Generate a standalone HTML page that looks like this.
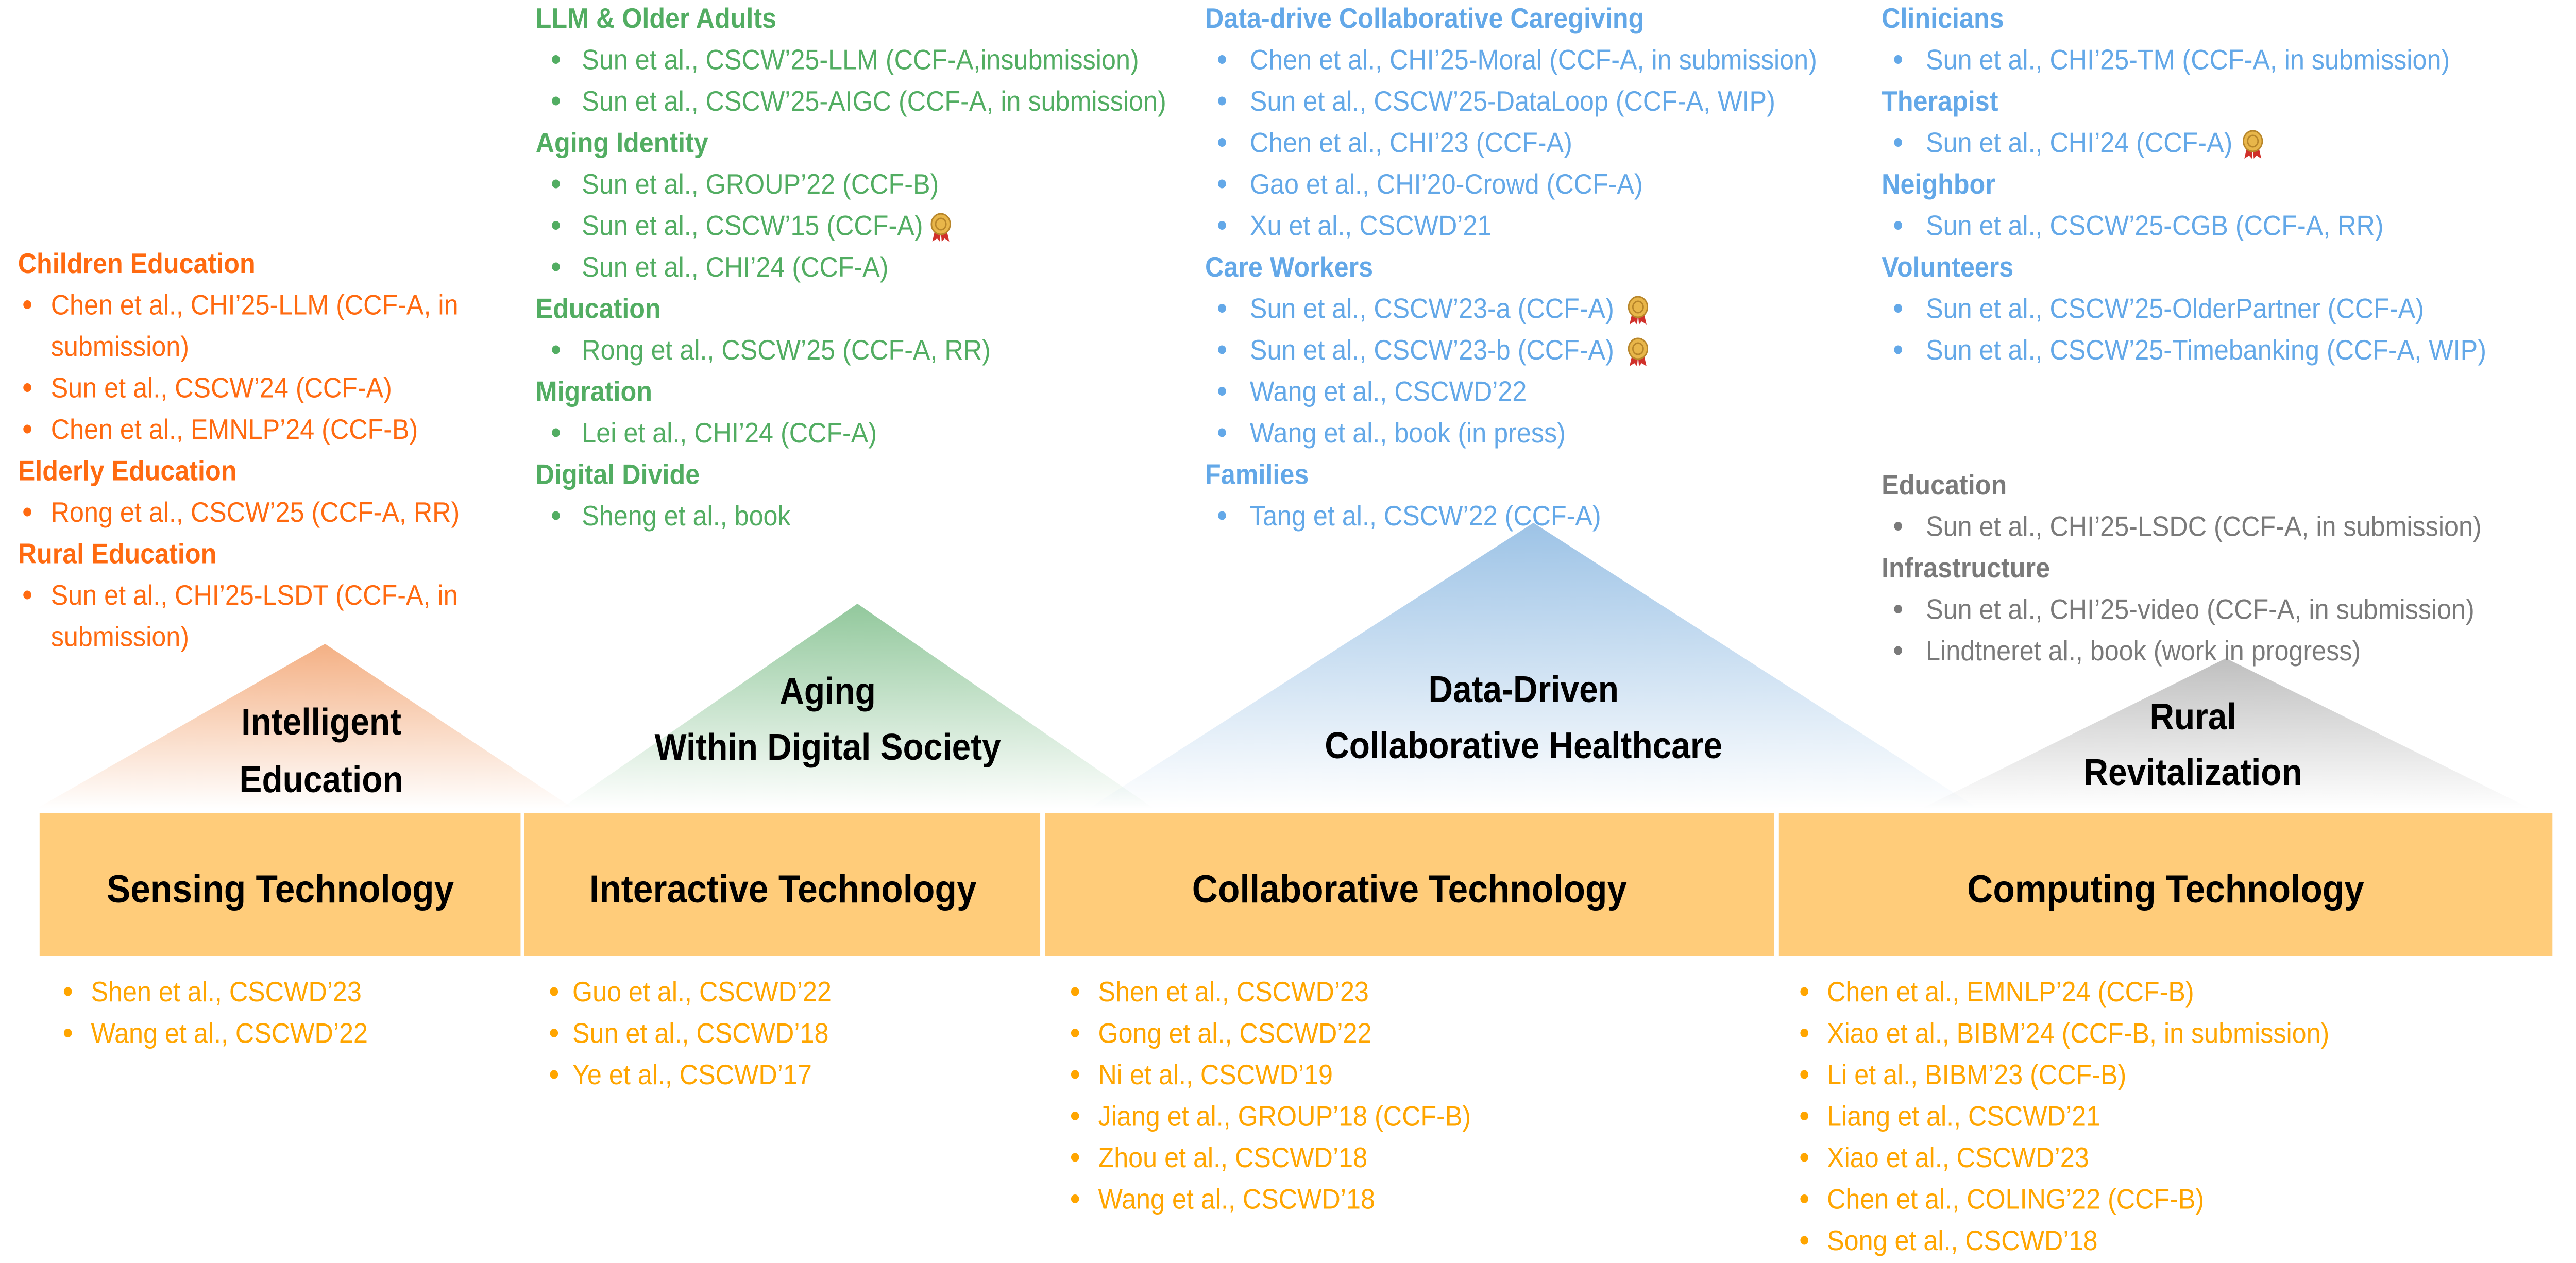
<!DOCTYPE html>
<html><head><meta charset="utf-8"><style>
html,body{margin:0;padding:0;background:#fff;width:100%;height:100%;overflow:hidden;}
svg{display:block;position:absolute;left:0;top:0;width:100vw;height:100vh;}
text{font-family:"Liberation Sans",sans-serif;font-size:55px;}
.h{font-weight:bold;}
.t{font-weight:bold;font-size:72px;fill:#000;text-anchor:middle;}
.bx{font-weight:bold;font-size:76px;fill:#000;text-anchor:middle;}
</style></head><body>
<svg viewBox="0 0 5468 2452" preserveAspectRatio="none" xmlns="http://www.w3.org/2000/svg">
<defs>
<linearGradient id="go" x1="0" y1="0" x2="0" y2="1"><stop offset="0" stop-color="#F4B084"/><stop offset="1" stop-color="#F4B084" stop-opacity="0"/></linearGradient>
<linearGradient id="gg" x1="0" y1="0" x2="0" y2="1"><stop offset="0" stop-color="#92C89C"/><stop offset="1" stop-color="#92C89C" stop-opacity="0"/></linearGradient>
<linearGradient id="gb" x1="0" y1="0" x2="0" y2="1"><stop offset="0" stop-color="#9DC3E6"/><stop offset="1" stop-color="#9DC3E6" stop-opacity="0"/></linearGradient>
<linearGradient id="gy" x1="0" y1="0" x2="0" y2="1"><stop offset="0" stop-color="#BFBFBF"/><stop offset="1" stop-color="#BFBFBF" stop-opacity="0"/></linearGradient>
<g id="medal"><path d="M-12 8 L-18 32 L-8 26 L-2 32 L0 12Z M12 8 L18 32 L8 26 L2 32 L0 12Z" fill="#D0302A"/><circle cx="0" cy="-2" r="20" fill="#E8B64A" stroke="#B8862A" stroke-width="3"/><circle cx="0" cy="-2" r="11" fill="none" stroke="#B8862A" stroke-width="3"/></g>
</defs>
<rect width="5468" height="2452" fill="#fff"/>
<polygon points="690,1250 77,1570 1218,1570" fill="url(#go)"/>
<polygon points="1820,1172 1190,1570 2450,1570" fill="url(#gg)"/>
<polygon points="3255,1015 2310,1570 4200,1570" fill="url(#gb)"/>
<polygon points="4725,1278 4078,1570 5372,1570" fill="url(#gy)"/>

<text class="t" x="682" y="1426">Intelligent</text>
<text class="t" x="682" y="1538">Education</text>
<text class="t" x="1757" y="1366">Aging</text>
<text class="t" x="1757" y="1475">Within Digital Society</text>
<text class="t" x="3234" y="1363">Data-Driven</text>
<text class="t" x="3234" y="1472">Collaborative Healthcare</text>
<text class="t" x="4655" y="1416">Rural</text>
<text class="t" x="4655" y="1524">Revitalization</text>

<rect x="84" y="1578" width="1021" height="278" fill="#FFCC7A"/>
<rect x="1113" y="1578" width="1095" height="278" fill="#FFCC7A"/>
<rect x="2218" y="1578" width="1548" height="278" fill="#FFCC7A"/>
<rect x="3776" y="1578" width="1642" height="278" fill="#FFCC7A"/>
<text class="bx" x="595" y="1752">Sensing Technology</text>
<text class="bx" x="1662" y="1752">Interactive Technology</text>
<text class="bx" x="2992" y="1752">Collaborative Technology</text>
<text class="bx" x="4597" y="1752">Computing Technology</text>

<!-- Orange column -->
<g fill="#FF6A10">
<text class="h" x="38" y="530">Children Education</text>
<circle cx="58" cy="591.5" r="8.5"/><text x="108" y="610.5">Chen et al., CHI’25-LLM (CCF-A, in</text>
<text x="108" y="691">submission)</text>
<circle cx="58" cy="752.5" r="8.5"/><text x="108" y="771.5">Sun et al., CSCW’24 (CCF-A)</text>
<circle cx="58" cy="833" r="8.5"/><text x="108" y="852">Chen et al., EMNLP’24 (CCF-B)</text>
<text class="h" x="38" y="932.5">Elderly Education</text>
<circle cx="58" cy="994" r="8.5"/><text x="108" y="1013">Rong et al., CSCW’25 (CCF-A, RR)</text>
<text class="h" x="38" y="1093.5">Rural Education</text>
<circle cx="58" cy="1155" r="8.5"/><text x="108" y="1174">Sun et al., CHI’25-LSDT (CCF-A, in</text>
<text x="108" y="1254.5">submission)</text>
</g>

<!-- Green column -->
<g fill="#52AD62">
<text class="h" x="1137" y="54">LLM &amp; Older Adults</text>
<circle cx="1180" cy="115.5" r="8.5"/><text x="1235" y="134.5">Sun et al., CSCW’25-LLM (CCF-A,insubmission)</text>
<circle cx="1180" cy="196" r="8.5"/><text x="1235" y="215">Sun et al., CSCW’25-AIGC (CCF-A, in submission)</text>
<text class="h" x="1137" y="295.5">Aging Identity</text>
<circle cx="1180" cy="357" r="8.5"/><text x="1235" y="376">Sun et al., GROUP’22 (CCF-B)</text>
<circle cx="1180" cy="437.5" r="8.5"/><text x="1235" y="456.5">Sun et al., CSCW’15 (CCF-A)</text>
<circle cx="1180" cy="518" r="8.5"/><text x="1235" y="537">Sun et al., CHI’24 (CCF-A)</text>
<text class="h" x="1137" y="617.5">Education</text>
<circle cx="1180" cy="679" r="8.5"/><text x="1235" y="698">Rong et al., CSCW’25 (CCF-A, RR)</text>
<text class="h" x="1137" y="778.5">Migration</text>
<circle cx="1180" cy="840" r="8.5"/><text x="1235" y="859">Lei et al., CHI’24 (CCF-A)</text>
<text class="h" x="1137" y="939.5">Digital Divide</text>
<circle cx="1180" cy="1001" r="8.5"/><text x="1235" y="1020">Sheng et al., book</text>
</g>
<use href="#medal" x="1997" y="437"/>

<!-- Blue column 1 -->
<g fill="#63A8E8">
<text class="h" x="2558" y="54">Data-drive Collaborative Caregiving</text>
<circle cx="2594" cy="115.5" r="8.5"/><text x="2653" y="134.5">Chen et al., CHI’25-Moral (CCF-A, in submission)</text>
<circle cx="2594" cy="196" r="8.5"/><text x="2653" y="215">Sun et al., CSCW’25-DataLoop (CCF-A, WIP)</text>
<circle cx="2594" cy="276.5" r="8.5"/><text x="2653" y="295.5">Chen et al., CHI’23 (CCF-A)</text>
<circle cx="2594" cy="357" r="8.5"/><text x="2653" y="376">Gao et al., CHI’20-Crowd (CCF-A)</text>
<circle cx="2594" cy="437.5" r="8.5"/><text x="2653" y="456.5">Xu et al., CSCWD’21</text>
<text class="h" x="2558" y="537">Care Workers</text>
<circle cx="2594" cy="598.5" r="8.5"/><text x="2653" y="617.5">Sun et al., CSCW’23-a (CCF-A)</text>
<circle cx="2594" cy="679" r="8.5"/><text x="2653" y="698">Sun et al., CSCW’23-b (CCF-A)</text>
<circle cx="2594" cy="759.5" r="8.5"/><text x="2653" y="778.5">Wang et al., CSCWD’22</text>
<circle cx="2594" cy="840" r="8.5"/><text x="2653" y="859">Wang et al., book (in press)</text>
<text class="h" x="2558" y="939.5">Families</text>
<circle cx="2594" cy="1001" r="8.5"/><text x="2653" y="1020">Tang et al., CSCW’22 (CCF-A)</text>
</g>
<use href="#medal" x="3477" y="598"/>
<use href="#medal" x="3477" y="679"/>

<!-- Blue column 2 -->
<g fill="#63A8E8">
<text class="h" x="3994" y="54">Clinicians</text>
<circle cx="4029" cy="115.5" r="8.5"/><text x="4088" y="134.5">Sun et al., CHI’25-TM (CCF-A, in submission)</text>
<text class="h" x="3994" y="215">Therapist</text>
<circle cx="4029" cy="276.5" r="8.5"/><text x="4088" y="295.5">Sun et al., CHI’24 (CCF-A)</text>
<text class="h" x="3994" y="376">Neighbor</text>
<circle cx="4029" cy="437.5" r="8.5"/><text x="4088" y="456.5">Sun et al., CSCW’25-CGB (CCF-A, RR)</text>
<text class="h" x="3994" y="537">Volunteers</text>
<circle cx="4029" cy="598.5" r="8.5"/><text x="4088" y="617.5">Sun et al., CSCW’25-OlderPartner (CCF-A)</text>
<circle cx="4029" cy="679" r="8.5"/><text x="4088" y="698">Sun et al., CSCW’25-Timebanking (CCF-A, WIP)</text>
</g>
<use href="#medal" x="4782" y="276"/>

<!-- Gray column -->
<g fill="#7A7A7A">
<text class="h" x="3994" y="960">Education</text>
<circle cx="4029" cy="1021.5" r="8.5"/><text x="4088" y="1040.5">Sun et al., CHI’25-LSDC (CCF-A, in submission)</text>
<text class="h" x="3994" y="1121">Infrastructure</text>
<circle cx="4029" cy="1182.5" r="8.5"/><text x="4088" y="1201.5">Sun et al., CHI’25-video (CCF-A, in submission)</text>
<circle cx="4029" cy="1263" r="8.5"/><text x="4088" y="1282">Lindtneret al., book (work in progress)</text>
</g>

<!-- Bottom columns -->
<g fill="#FFA500">
<circle cx="144" cy="1925" r="8.5"/><text x="193" y="1944">Shen et al., CSCWD’23</text>
<circle cx="144" cy="2005.5" r="8.5"/><text x="193" y="2024.5">Wang et al., CSCWD’22</text>

<circle cx="1176" cy="1925" r="8.5"/><text x="1215" y="1944">Guo et al., CSCWD’22</text>
<circle cx="1176" cy="2005.5" r="8.5"/><text x="1215" y="2024.5">Sun et al., CSCWD’18</text>
<circle cx="1176" cy="2086" r="8.5"/><text x="1215" y="2105">Ye et al., CSCWD’17</text>

<circle cx="2282" cy="1925" r="8.5"/><text x="2331" y="1944">Shen et al., CSCWD’23</text>
<circle cx="2282" cy="2005.5" r="8.5"/><text x="2331" y="2024.5">Gong et al., CSCWD’22</text>
<circle cx="2282" cy="2086" r="8.5"/><text x="2331" y="2105">Ni et al., CSCWD’19</text>
<circle cx="2282" cy="2166.5" r="8.5"/><text x="2331" y="2185.5">Jiang et al., GROUP’18 (CCF-B)</text>
<circle cx="2282" cy="2247" r="8.5"/><text x="2331" y="2266">Zhou et al., CSCWD’18</text>
<circle cx="2282" cy="2327.5" r="8.5"/><text x="2331" y="2346.5">Wang et al., CSCWD’18</text>

<circle cx="3830" cy="1925" r="8.5"/><text x="3878" y="1944">Chen et al., EMNLP’24 (CCF-B)</text>
<circle cx="3830" cy="2005.5" r="8.5"/><text x="3878" y="2024.5">Xiao et al., BIBM’24 (CCF-B, in submission)</text>
<circle cx="3830" cy="2086" r="8.5"/><text x="3878" y="2105">Li et al., BIBM’23 (CCF-B)</text>
<circle cx="3830" cy="2166.5" r="8.5"/><text x="3878" y="2185.5">Liang et al., CSCWD’21</text>
<circle cx="3830" cy="2247" r="8.5"/><text x="3878" y="2266">Xiao et al., CSCWD’23</text>
<circle cx="3830" cy="2327.5" r="8.5"/><text x="3878" y="2346.5">Chen et al., COLING’22 (CCF-B)</text>
<circle cx="3830" cy="2408" r="8.5"/><text x="3878" y="2427">Song et al., CSCWD’18</text>
</g>
</svg>
</body></html>
